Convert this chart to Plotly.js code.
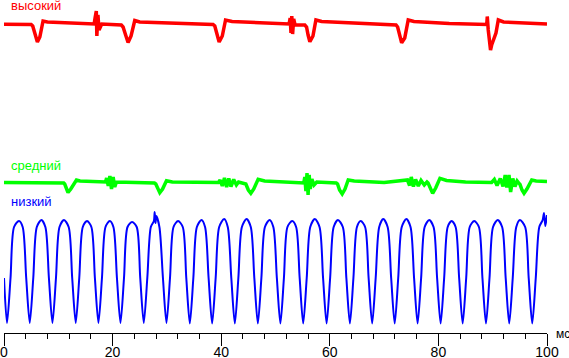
<!DOCTYPE html>
<html>
<head>
<meta charset="utf-8">
<script src="https://cdn.plot.ly/plotly-3.0.1.min.js"></script>
<style>html,body{margin:0;padding:0;background:#fff;}#chart{width:569px;height:358px;}</style>
</head>
<body>
<div id="chart"></div>
<script>
// Time axis in ms; signal levels in arbitrary units
var channelNames = ["высокий", "средний", "низкий"];
var xTickLabel = "мс";

var highT = [0, 5.0, 5.29, 5.7, 6.15, 6.6, 7.19, 8.0, 10, 14, 16.6, 16.8, 17.0, 17.1, 17.3, 17.5, 18, 21.6, 21.93, 22.4, 22.85, 23.4, 24.08, 25, 30, 35, 38.5, 38.82, 39.2, 39.62, 40.2, 40.8, 42, 48, 52.5, 52.7, 52.85, 53.0, 53.15, 53.35, 53.6, 55.4, 55.72, 56.0, 56.33, 56.9, 57.44, 58.5, 65, 72.2, 72.49, 72.9, 73.23, 73.8, 74.44, 75.5, 82, 88.9, 89.0, 89.18, 89.4, 89.6, 89.81, 90.2, 90.6, 91.03, 92, 100];
var highV = [308.7, 308.5, 307, 298, 291, 296, 312, 311, 310.5, 310, 309, 316, 322, 297, 318, 303, 309, 308, 306, 298, 290.5, 297, 312.5, 311, 310, 309, 308.5, 307, 298, 291, 297, 313, 311.5, 310, 309, 315, 300, 317, 299, 314, 308, 308, 306, 298, 291.3, 297, 313, 311.5, 309.5, 308, 306, 297, 290.3, 295, 313, 311.5, 309.5, 308.5, 316.5, 303, 290, 283, 288, 293, 300, 313, 311, 309];

var midT = [0, 11.0, 11.18, 11.5, 11.79, 12.3, 13.0, 13.34, 14, 18.7, 18.9, 19.2, 19.5, 19.8, 20.1, 20.4, 20.7, 23, 27.7, 27.95, 28.3, 28.69, 29.2, 29.92, 31, 39.5, 39.8, 40.2, 40.6, 41.0, 41.4, 41.8, 42.3, 42.8, 43.2, 44.3, 44.54, 45.0, 45.46, 46.0, 46.8, 48, 52, 55.2, 55.4, 55.6, 55.8, 56.0, 56.2, 56.4, 56.7, 57.1, 57.6, 61.2, 61.43, 61.8, 62.28, 62.8, 63.39, 64.5, 70, 74.3, 74.7, 75.0, 75.4, 75.8, 76.3, 76.8, 77.4, 77.9, 78.1, 78.26, 78.6, 78.94, 79.5, 80.28, 81.5, 85, 89.8, 90.3, 90.8, 91.4, 91.9, 92.3, 92.6, 93.0, 93.3, 93.7, 94.1, 94.5, 94.8, 95.03, 95.4, 95.77, 96.3, 97.19, 98, 100];
var midV = [150.5, 150, 149, 144, 140.5, 144, 151, 153, 152, 151, 155, 147, 157, 144, 156, 146, 151, 150.5, 150, 149, 144, 140.3, 144, 152.3, 151, 150.5, 153, 147, 155, 146, 154.5, 146.5, 153.5, 148, 151, 150, 149, 143, 139.7, 144, 153.7, 152, 151, 150, 156, 142, 160, 138, 158, 144, 154, 148, 151, 150, 149, 143, 139, 144, 153, 152, 150.5, 153, 147.5, 156, 146.5, 153.5, 147, 152.5, 148, 151, 150, 148, 142, 139.7, 145, 154.7, 152.5, 151, 150.5, 153.5, 147.5, 154.5, 146.5, 158, 145.5, 158, 141, 154.5, 146.5, 152, 150, 148.5, 143, 139.7, 144, 153, 152, 151.5];

var lowT = [0,
  0.55, 1.2, 1.85, 2.76, 3.44, 4.09,
  4.74, 5.39, 6.04, 6.89, 7.62, 8.27,
  8.92, 9.57, 10.22, 11.05, 11.91, 12.56,
  13.21, 13.86, 14.51, 15.29, 16.09, 16.74,
  17.39, 18.04, 18.69, 19.48, 20.15, 20.8,
  21.45, 22.1, 22.75, 23.59, 24.44, 25.09,
  25.74, 26.39, 27.04, 27.6, 27.75, 27.9, 28.05, 28.62, 29.27,
  29.92, 30.57, 31.22, 32.06, 32.92, 33.57,
  34.22, 34.87, 35.52, 36.37, 37.03, 37.68,
  38.33, 38.98, 39.63, 40.54, 41.21, 41.86,
  42.51, 43.16, 43.81, 44.67, 45.45, 46.1,
  46.75, 47.4, 48.05, 48.9, 49.6, 50.25,
  50.9, 51.55, 52.2, 53.07, 53.8, 54.45,
  55.1, 55.75, 56.4, 57.25, 58.11, 58.76,
  59.41, 60.06, 60.71, 61.5, 62.4, 63.05,
  63.7, 64.35, 65.0, 65.7, 66.5, 67.15,
  67.8, 68.45, 69.1, 69.84, 70.65, 71.3,
  71.95, 72.6, 73.25, 74.1, 74.87, 75.52,
  76.17, 76.82, 77.47, 78.31, 79.11, 79.76,
  80.41, 81.06, 81.71, 82.44, 83.17, 83.82,
  84.47, 85.12, 85.77, 86.6, 87.46, 88.11,
  88.76, 89.41, 90.06, 90.92, 91.74, 92.39,
  93.04, 93.69, 94.34, 95.02, 95.98, 96.63,
  97.28, 97.93, 98.58, 99.2, 99.45, 99.7, 100];
var lowV = [55,
  10, 55, 106, 112, 106, 55,
  10, 55, 106, 113, 106, 55,
  10, 55, 106, 113, 106, 55,
  10, 55, 106, 112, 106, 55,
  10, 55, 106, 112, 106, 55,
  10, 55, 106, 111, 106, 55,
  10, 55, 106, 112, 121, 110, 117, 106, 55,
  10, 55, 106, 112, 106, 55,
  9.5, 55, 106, 113, 106, 55,
  9.5, 55, 106, 114, 106, 55,
  9.5, 55, 106, 114, 106, 55,
  9.5, 55, 106, 113, 106, 55,
  9.5, 55, 106, 112, 106, 55,
  9.5, 55, 106, 114, 106, 55,
  9.5, 55, 106, 113, 106, 55,
  9.5, 55, 106, 112, 106, 55,
  9.5, 55, 106, 114, 106, 55,
  9.5, 55, 106, 114, 106, 55,
  9.5, 55, 106, 113, 106, 55,
  9.5, 55, 106, 112, 106, 55,
  9.5, 55, 106, 112, 106, 55,
  9.5, 55, 106, 113, 106, 55,
  9.5, 55, 106, 113, 106, 55,
  9.5, 55, 106, 113, 120, 107, 118];

var font = "Liberation Sans, Arial, sans-serif";

var traces = [
  {x: highT, y: highV, type: "scatter", mode: "lines", line: {color: "#ff0000", width: 3.5}, hoverinfo: "skip"},
  {x: midT, y: midV, type: "scatter", mode: "lines", line: {color: "#00ff00", width: 3.5}, hoverinfo: "skip"},
  {x: lowT, y: lowV, type: "scatter", mode: "lines", line: {color: "#0000ff", width: 2, shape: "spline", smoothing: 0.8}, hoverinfo: "skip"},
  {x: [], y: [], xaxis: "x2", yaxis: "y", type: "scatter", mode: "lines", hoverinfo: "skip"}
];

var layout = {
  width: 569, height: 358,
  margin: {l: 4, r: 22, t: 0, b: 25, pad: 0},
  paper_bgcolor: "#ffffff", plot_bgcolor: "#ffffff",
  showlegend: false,
  xaxis: {
    range: [0, 100], dtick: 20, tick0: 0,
    showline: true, linecolor: "#000", linewidth: 1,
    ticks: "outside", ticklen: 6, tickwidth: 1, tickcolor: "#000",
    minor: {dtick: 4, ticks: "outside", ticklen: 5, tickwidth: 1, tickcolor: "#000"},
    showgrid: false, zeroline: false,
    tickfont: {family: font, size: 14, color: "#000"}
  },
  xaxis2: {
    overlaying: "x", anchor: "y", side: "bottom",
    range: [0, 100], dtick: 20, tick0: 0,
    ticks: "outside", ticklen: 12, tickwidth: 1, tickcolor: "#000",
    showticklabels: false, showline: false, showgrid: false, zeroline: false
  },
  yaxis: {range: [0, 333], visible: false, showgrid: false, zeroline: false},
  annotations: [
    {text: channelNames[0], xref: "paper", yref: "y", x: 0.009, y: 327.5, xanchor: "left", yanchor: "middle", showarrow: false, font: {family: font, size: 13, color: "#ff0000"}},
    {text: channelNames[1], xref: "paper", yref: "y", x: 0.009, y: 167.5, xanchor: "left", yanchor: "middle", showarrow: false, font: {family: font, size: 13, color: "#00ff00"}},
    {text: channelNames[2], xref: "paper", yref: "y", x: 0.009, y: 131.5, xanchor: "left", yanchor: "middle", showarrow: false, font: {family: font, size: 13, color: "#0000ff"}},
    {text: xTickLabel, xref: "paper", yref: "paper", x: 1.0129, y: 0.0, yshift: -1, xanchor: "left", yanchor: "middle", showarrow: false, font: {family: font, size: 12, color: "#000"}}
  ]
};

Plotly.newPlot("chart", traces, layout, {staticPlot: true, displayModeBar: false});
</script>
</body>
</html>
